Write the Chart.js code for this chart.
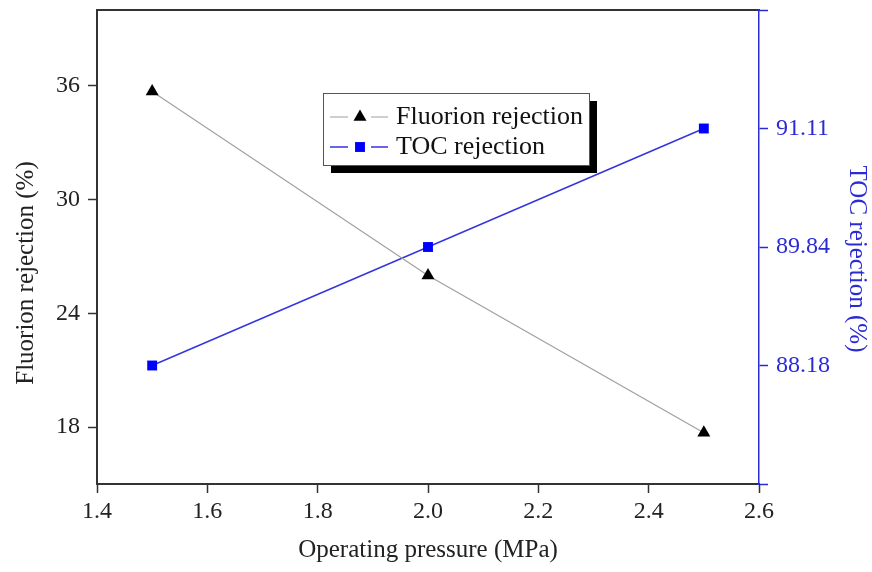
<!DOCTYPE html>
<html>
<head>
<meta charset="utf-8">
<script src="https://cdn.jsdelivr.net/npm/chart.js@4.4.0/dist/chart.umd.min.js"></script>
<style>
  html, body { margin: 0; padding: 0; background: #fff; }
</style>
</head>
<body>
<canvas id="rejectionChart" width="872" height="572"></canvas>
<script>
// data
const pressure = [1.5, 2.0, 2.5];
const fluorionRejection = [35.7, 26.0, 17.7];
const tocRejection = [88.18, 89.84, 91.11];

// tick labels
const xTicks = [1.4, 1.6, 1.8, 2.0, 2.2, 2.4, 2.6];
const leftTicks = [18, 24, 30, 36];
const rightTicks = ['88.18', '89.84', '91.11']; // evenly spaced labels on the TOC axis

const serif = "'Liberation Serif', 'Times New Roman', serif";
const axisGray = '#333333';
const tocBlue = '#2b2bd6';

// fixed axis box sizes so the plot frame sits where it does in the figure
const fixBox = (w, h) => s => {
  if (w !== null) s.width = w;
  if (h !== null) s.height = h;
  s.paddingTop = 0; s.paddingBottom = 0;
  s.paddingLeft = 0; s.paddingRight = 0;
};

// legend box with drop shadow, inside the plot
const boxLegend = {
  id: 'boxLegend',
  afterDatasetsDraw(chart) {
    const ctx = chart.ctx;
    const x = 323, y = 93, w = 266, h = 72;
    ctx.save();
    ctx.fillStyle = '#000';
    ctx.fillRect(x + 8, y + 8, w, h);
    ctx.fillStyle = '#fff';
    ctx.fillRect(x, y, w, h);
    ctx.strokeStyle = '#555';
    ctx.lineWidth = 1;
    ctx.strokeRect(x + 0.5, y + 0.5, w, h);

    chart.data.datasets.forEach((ds, i) => {
      const cy = y + 24 + i * 30;
      const mx = x + 37;
      ctx.strokeStyle = ds.borderColor;
      ctx.lineWidth = ds.borderWidth;
      ctx.beginPath();
      ctx.moveTo(x + 7, cy); ctx.lineTo(mx - 12, cy);
      ctx.moveTo(mx + 11, cy); ctx.lineTo(x + 65, cy);
      ctx.stroke();

      ctx.fillStyle = ds.pointBackgroundColor;
      Chart.helpers.drawPoint(ctx, {
        pointStyle: ds.pointStyle,
        radius: ds.pointRadius,
        borderWidth: 0,
        rotation: 0
      }, mx, cy);

      ctx.fillStyle = '#111';
      ctx.font = '26px ' + serif;
      ctx.textBaseline = 'middle';
      ctx.textAlign = 'left';
      ctx.fillText(ds.label, x + 73, cy);
    });
    ctx.restore();
  }
};

// y axis titles (they sit a little below the middle of the axes in the figure)
const sideTitles = {
  id: 'sideTitles',
  afterDraw(chart) {
    const ctx = chart.ctx;
    ctx.save();
    ctx.font = '25px ' + serif;
    ctx.textAlign = 'center';
    ctx.textBaseline = 'middle';

    ctx.fillStyle = '#222';
    ctx.translate(26, 273);
    ctx.rotate(-Math.PI / 2);
    ctx.fillText('Fluorion rejection (%)', 0, 0);
    ctx.setTransform(1, 0, 0, 1, 0, 0);

    ctx.fillStyle = tocBlue;
    ctx.translate(857, 259);
    ctx.rotate(Math.PI / 2);
    ctx.fillText('TOC rejection (%)', 0, 0);
    ctx.restore();
  }
};

const ctx = document.getElementById('rejectionChart');
new Chart(ctx, {
  type: 'line',
  data: {
    datasets: [
      {
        label: 'Fluorion rejection',
        data: pressure.map((p, i) => ({ x: p, y: fluorionRejection[i] })),
        xAxisID: 'x',
        yAxisID: 'y',
        borderColor: '#a0a0a0',
        borderWidth: 1.2,
        pointStyle: 'triangle',
        pointRadius: 7.5,
        pointBackgroundColor: '#000',
        pointBorderWidth: 0,
        tension: 0
      },
      {
        label: 'TOC rejection',
        data: pressure.map((p, i) => ({ x: p, y: rightTicks.indexOf(tocRejection[i].toFixed(2)) })),
        xAxisID: 'x',
        yAxisID: 'y2',
        borderColor: '#3535e0',
        borderWidth: 1.5,
        pointStyle: 'rect',
        pointRadius: 7,
        pointBackgroundColor: '#0000ff',
        pointBorderWidth: 0,
        tension: 0
      }
    ]
  },
  options: {
    responsive: false,
    animation: false,
    layout: { padding: { top: 10, left: 0, right: 0, bottom: 0 } },
    plugins: {
      legend: { display: false },
      tooltip: { enabled: false }
    },
    scales: {
      x: {
        type: 'linear',
        position: 'bottom',
        min: 1.4,
        max: 2.6,
        afterBuildTicks: s => { s.ticks = xTicks.map(v => ({ value: v })); },
        afterFit: fixBox(null, 88),
        grid: { drawOnChartArea: false, tickLength: 9, tickColor: axisGray, tickWidth: 1.5 },
        border: { color: axisGray, width: 2 },
        ticks: {
          color: '#222',
          font: { family: serif, size: 24 },
          padding: 4,
          maxRotation: 0,
          callback: v => v.toFixed(1)
        },
        title: {
          display: true,
          text: 'Operating pressure (MPa)',
          color: '#222',
          font: { family: serif, size: 25 },
          padding: { bottom: 7 }
        }
      },
      xTop: {
        type: 'linear',
        position: 'top',
        min: 1.4,
        max: 2.6,
        afterFit: fixBox(null, 0),
        grid: { display: false },
        ticks: { display: false },
        border: { color: axisGray, width: 2 }
      },
      y: {
        type: 'linear',
        position: 'left',
        min: 15,
        max: 40,
        afterBuildTicks: s => { s.ticks = leftTicks.map(v => ({ value: v })); },
        afterFit: fixBox(97, null),
        grid: { drawOnChartArea: false, tickLength: 9, tickColor: axisGray, tickWidth: 1.5 },
        border: { color: axisGray, width: 2 },
        ticks: {
          color: '#222',
          font: { family: serif, size: 24 },
          padding: 8
        }
      },
      y2: {
        type: 'linear',
        position: 'right',
        min: -1,
        max: 3,
        afterBuildTicks: s => { s.ticks = [-1, 0, 1, 2, 3].map(v => ({ value: v })); },
        afterFit: fixBox(113, null),
        grid: { drawOnChartArea: false, tickLength: 9, tickColor: tocBlue, tickWidth: 1.5 },
        border: { color: tocBlue, width: 1.5 },
        ticks: {
          color: tocBlue,
          font: { family: serif, size: 24 },
          padding: 8,
          callback: v => rightTicks[v] ?? ''
        }
      }
    }
  },
  plugins: [boxLegend, sideTitles]
});
</script>
</body>
</html>
